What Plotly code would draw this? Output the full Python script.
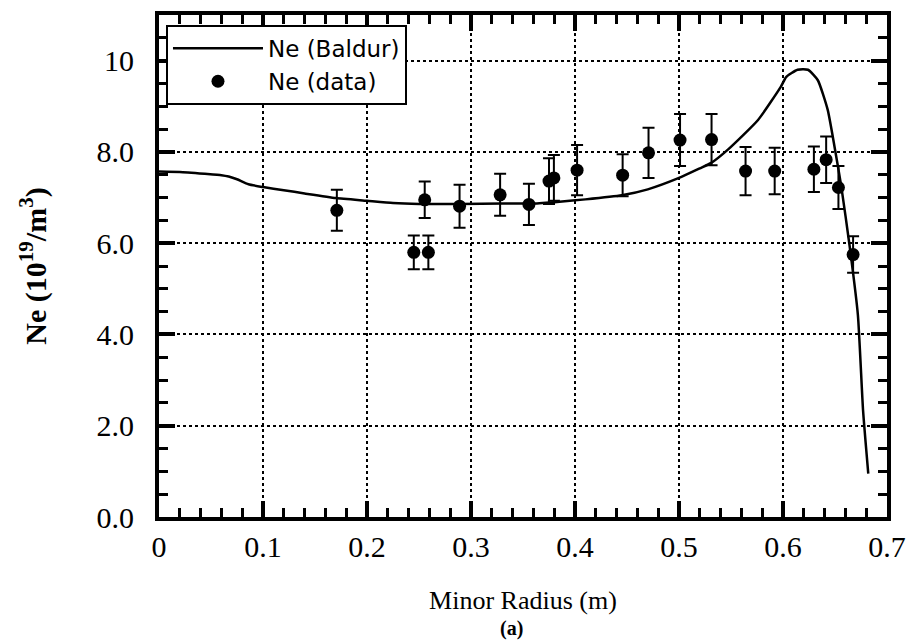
import plotly.graph_objects as go

# Baldur model curve
model_r = [0.0, 0.02, 0.044, 0.06, 0.067, 0.075, 0.086, 0.1, 0.12, 0.14, 0.17, 0.2, 0.225,
           0.25, 0.29, 0.33, 0.36, 0.385, 0.41, 0.445, 0.47, 0.5, 0.52, 0.531, 0.547, 0.576,
           0.598, 0.603, 0.614, 0.624, 0.6335, 0.643, 0.6495, 0.656, 0.664, 0.672, 0.677, 0.682]
model_ne = [7.57, 7.56, 7.52, 7.49, 7.46, 7.40, 7.29, 7.23, 7.16, 7.09, 6.99, 6.93, 6.88,
            6.86, 6.86, 6.87, 6.87, 6.91, 6.96, 7.05, 7.18, 7.43, 7.64, 7.76, 8.05, 8.70,
            9.43, 9.64, 9.80, 9.80, 9.57, 8.92, 8.12, 7.25, 5.95, 4.43, 2.33, 0.95]

# Measured data
data_r = [0.171, 0.245, 0.2555, 0.259, 0.289, 0.328, 0.3557, 0.375, 0.3797, 0.402,
          0.4458, 0.4707, 0.501, 0.5313, 0.564, 0.592, 0.6297, 0.6415, 0.6533, 0.6674]
data_ne = [6.72, 5.80, 6.95, 5.80, 6.81, 7.06, 6.85, 7.36, 7.43, 7.60,
           7.49, 7.98, 8.26, 8.27, 7.58, 7.58, 7.62, 7.83, 7.22, 5.75]
data_err = [0.45, 0.37, 0.40, 0.37, 0.47, 0.46, 0.45, 0.50, 0.50, 0.55,
            0.46, 0.55, 0.57, 0.56, 0.53, 0.51, 0.50, 0.51, 0.47, 0.40]

x_tickvals = [0, 0.1, 0.2, 0.3, 0.4, 0.5, 0.6, 0.7]
x_ticktext = ["0", "0.1", "0.2", "0.3", "0.4", "0.5", "0.6", "0.7"]
y_tickvals = [0, 2, 4, 6, 8, 10]
y_ticktext = ["0.0", "2.0", "4.0", "6.0", "8.0", "10"]

W, H = 917, 643
L, R, T, B = 159, 28, 11, 126
PW, PH = W - L - R, H - T - B

def px(xp):
    return (xp - L) / PW

def py(yp):
    return (H - B - yp) / PH

NBSP = "\u00a0\u00a0"

fig = go.Figure()
fig.add_trace(go.Scatter(
    x=model_r, y=model_ne, mode="lines", name="Ne (Baldur)",
    line=dict(color="black", width=2.5, shape="spline", smoothing=0.5),
))
fig.add_trace(go.Scatter(
    x=data_r, y=data_ne, mode="markers", name="Ne (data)",
    marker=dict(color="black", size=13),
    error_y=dict(type="data", array=data_err, visible=True, color="black",
                 thickness=2, width=6),
))

tickfont = dict(family="Liberation Serif", size=30, color="black")

fig.update_xaxes(
    range=[0, 0.7], tickvals=x_tickvals, ticktext=x_ticktext,
    ticks="inside", ticklen=16, tickwidth=4, tickcolor="black",
    showline=True, linewidth=4, linecolor="black", mirror="allticks",
    showgrid=True, gridcolor="black", gridwidth=1.5, griddash="dot",
    zeroline=False, tickfont=tickfont,
    minor=dict(dtick=0.02, ticks="inside", ticklen=9, tickwidth=3, tickcolor="black"),
    title=dict(text="Minor Radius (m)",
               font=dict(family="Liberation Serif", size=26, color="black"),
               standoff=30),
)
fig.update_yaxes(
    range=[0, 11], tickvals=y_tickvals, ticktext=[t + NBSP for t in y_ticktext],
    ticks="inside", ticklen=16, tickwidth=4, tickcolor="black",
    showline=True, linewidth=4, linecolor="black", mirror="allticks",
    showgrid=True, gridcolor="black", gridwidth=1.5, griddash="dot",
    zeroline=False, tickfont=tickfont,
    minor=dict(dtick=0.5, ticks="inside", ticklen=9, tickwidth=3, tickcolor="black"),
    title=dict(text="<b>Ne (10<sup>19</sup>/m<sup>3</sup>)</b>",
               font=dict(family="Liberation Serif", size=30, color="black"),
               standoff=42),
)

fig.add_annotation(text="<b>(a)</b>", xref="paper", yref="paper",
                   x=px(512), y=py(629), yanchor="middle", showarrow=False,
                   font=dict(family="Liberation Serif", size=20, color="black"))

fig.update_layout(
    width=W, height=H,
    margin=dict(l=L, r=R, t=T, b=B),
    plot_bgcolor="white",
    showlegend=True,
    legend=dict(x=px(166), y=py(21), xanchor="left", yanchor="top",
                bgcolor="white", bordercolor="black", borderwidth=2, itemwidth=90,
                font=dict(family="DejaVu Sans", size=23, color="black"),
                tracegroupgap=0),
)

fig.write_html("out.html")
